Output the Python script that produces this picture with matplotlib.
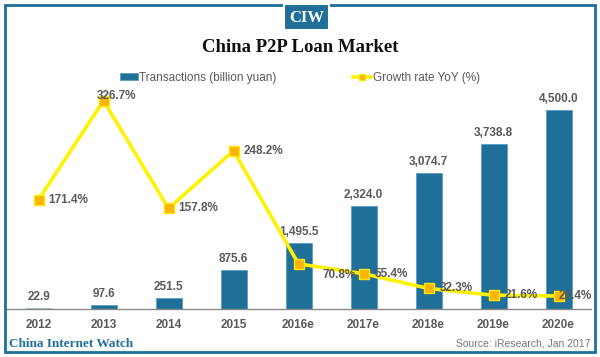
import matplotlib
matplotlib.use("Agg")
import matplotlib.pyplot as plt
from matplotlib.patches import Rectangle
from matplotlib.lines import Line2D

years = ["2012", "2013", "2014", "2015", "2016e", "2017e", "2018e", "2019e", "2020e"]
transactions = [22.9, 97.6, 251.5, 875.6, 1495.5, 2324.0, 3074.7, 3738.8, 4500.0]
growth = [171.4, 326.7, 157.8, 248.2, 70.8, 55.4, 32.3, 21.6, 20.4]

W, H = 600, 357
fig = plt.figure(figsize=(W / 100, H / 100), dpi=100)
fig.patch.set_facecolor("white")

def fx(px):
    return px / W

def fy(py):
    return 1 - py / H

BLUE = "#1f6f98"
GRAY = "#5a5a5a"

ax = fig.add_axes([fx(6), fy(309), fx(591) - fx(6), fy(90) - fy(309)])
ax2 = ax.twinx()

x = list(range(len(years)))
bars = ax.bar(x, transactions, width=0.4, color=BLUE, edgecolor="#5a9cc4", linewidth=0.6, zorder=2)
bars[0].set_color("#9ec3da")
ax.set_xlim(-0.5, 8.5)
ax.set_ylim(0, 4950)
ax.set_yticks([])
for s in ["top", "left", "right"]:
    ax.spines[s].set_visible(False)
ax.spines["bottom"].set_color("#8a8a8a")
ax.spines["bottom"].set_linewidth(1.0)
ax.set_xticks(x)
ax.set_xticklabels(years, fontsize=8.5, fontweight="bold", color=GRAY, family="Liberation Sans")
ax.tick_params(axis="x", length=0, pad=7)

for i, v in enumerate(transactions):
    ax.annotate(f"{v:,.1f}", (i, v), xytext=(0, 3.5), textcoords="offset points",
                ha="center", va="bottom", fontsize=8.5, fontweight="bold", color=GRAY,
                family="Liberation Sans")

line, = ax2.plot(x, growth, color="#fff200", lw=2.6, marker="s", markersize=7,
                 markerfacecolor="#f7b500", markeredgecolor="#ffe600", markeredgewidth=1, zorder=3)
ax2.set_ylim(0, 343.5)
ax2.set_yticks([])
for s in ["top", "left", "right", "bottom"]:
    ax2.spines[s].set_visible(False)

offsets = [(7, 0), (-5, 3.5), (7, 0), (7, 0), (17, -8), (8, 0), (8, 0), (8, 0), (0, 0)]
for i, v in enumerate(growth):
    dx, dy = offsets[i]
    ax2.annotate(f"{v:.1f}%", (i, v), xytext=(dx, dy), textcoords="offset points",
                 ha="left", va="center", fontsize=8.5, fontweight="bold", color=GRAY,
                 family="Liberation Sans", zorder=4)

# frame
fig.patches.append(Rectangle((fx(5), fy(352)), fx(595) - fx(5), fy(5) - fy(352),
                             transform=fig.transFigure, fill=False, edgecolor=BLUE, lw=2))
fig.patches.append(Rectangle((fx(284), fy(30)), fx(329) - fx(284), fy(4) - fy(30),
                             transform=fig.transFigure, facecolor=BLUE, edgecolor="white", lw=1.5))
fig.text(fx(306.5), fy(17.5), "CIW", ha="center", va="center", color="white",
         fontsize=12, fontweight="bold", family="Liberation Serif")

fig.text(fx(300), fy(47), "China P2P Loan Market", ha="center", va="center",
         fontsize=13.5, fontweight="bold", family="Liberation Serif", color="#111111")

leg_bar = Rectangle((0, 0), 1, 1, facecolor=BLUE, edgecolor="#5a9cc4", lw=0.6)
leg_line = Line2D([], [], color="#fff200", lw=2.6, marker="s", markersize=5,
                  markerfacecolor="#f7b500", markeredgecolor="#ffe600")
fig.legend([leg_bar, leg_line], ["Transactions (billion yuan)", "Growth rate YoY (%)"],
           loc="center", bbox_to_anchor=(fx(300), fy(78)), ncol=2, frameon=False,
           prop={"family": "Liberation Sans", "size": 8.5}, labelcolor=GRAY,
           handlelength=1.5, handleheight=0.5, handletextpad=0.15, columnspacing=6.5)

fig.text(fx(9), fy(344), "China Internet Watch", ha="left", va="center",
         fontsize=9.5, fontweight="bold", family="Liberation Serif", color=BLUE)
fig.text(fx(590), fy(344), "Source: iResearch, Jan 2017", ha="right", va="center",
         fontsize=7.5, family="Liberation Sans", color="#777777")

fig.savefig("out.png", dpi=100)
